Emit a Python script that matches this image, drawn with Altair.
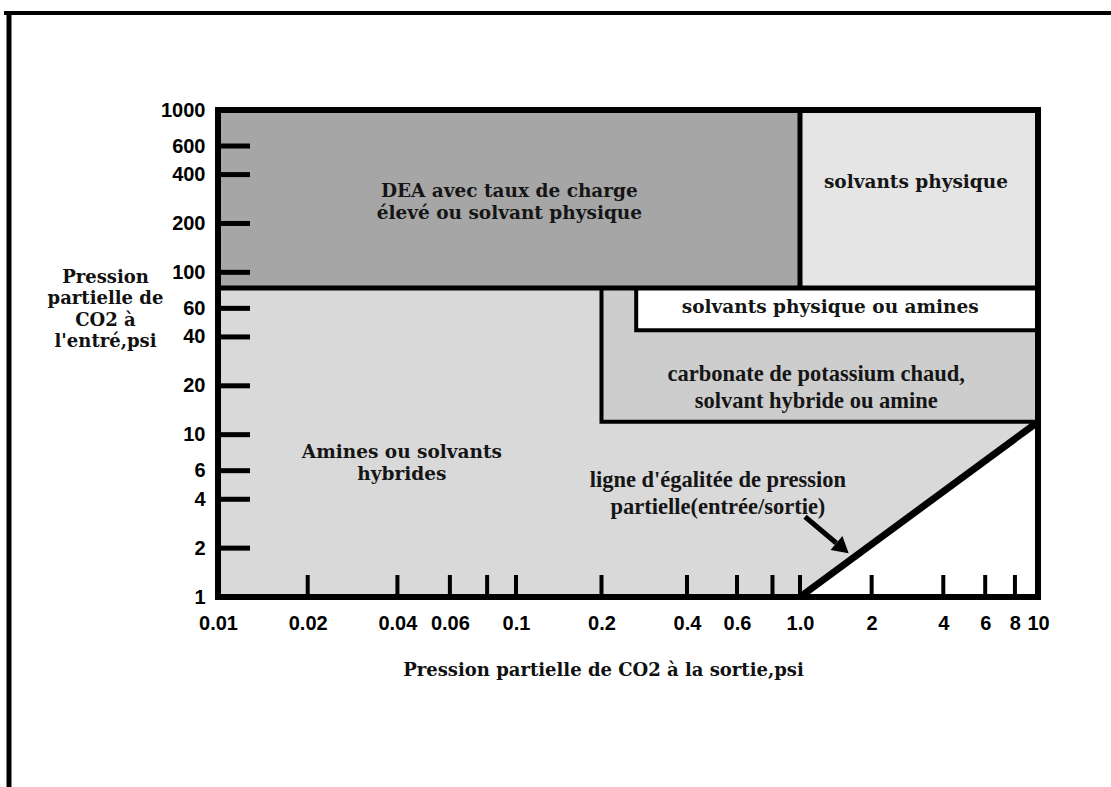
import altair as alt
import pandas as pd

# ---------------- data ----------------
# axis ticks / labels
x_tick_values = [0.02, 0.04, 0.06, 0.08, 0.1, 0.2, 0.4, 0.6, 0.8, 1.0, 2, 4, 6, 8]
x_label_values = [0.01, 0.02, 0.04, 0.06, 0.1, 0.2, 0.4, 0.6, 1.0, 2, 4, 6, 8, 10]
x_label_texts = ["0.01", "0.02", "0.04", "0.06", "0.1", "0.2", "0.4", "0.6", "1.0", "2", "4", "6", "8", "10"]
y_tick_values = [600, 400, 200, 100, 60, 40, 20, 10, 6, 4, 2]
y_label_values = [1000, 600, 400, 200, 100, 60, 40, 20, 10, 6, 4, 2, 1]

# upper zones (no outline)
top_names = ["DEA", "physique"]
top_x0 = [0.01, 1.0]
top_x1 = [1.0, 10]
top_y0 = [80, 80]
top_y1 = [1000, 1000]

# outlined boxes
box_names = ["carbonate", "physique_amines"]
box_x0 = [0.2, 0.265]
box_x1 = [10, 10]
box_y0 = [12, 44]
box_y1 = [80, 80]

# equality line (entrée = sortie)
eq_x = [1.0, 10]
eq_y = [1, 12]

# separators
divider_x = [1.0]
divider_y0 = [80]
divider_y1 = [1000]
separator_y = [80]
separator_x0 = [0.01]
separator_x1 = [10]

# plot frame
frame_x0, frame_x1, frame_y0, frame_y1 = [0.01], [10], [1], [1000]

# arrow (tail -> end of shaft), head
arrow_x = [1.05, 1.42]
arrow_y = [3.12, 2.15]
head_x, head_y = [1.48], [2.05]

# annotations
lab_a_text = ["DEA avec taux de charge\nélevé ou solvant physique",
              "solvants physique",
              "solvants physique ou amines",
              "Amines ou solvants\nhybrides"]
lab_a_x = [0.095, 3.07, 1.34, 0.0414]
lab_a_y = [316, 360, 61.2, 7.82]
lab_b_text = ["carbonate de potassium chaud,\nsolvant hybride ou amine",
              "ligne d'égalitée de pression\npartielle(entrée/sortie)"]
lab_b_x = [1.17, 0.514]
lab_b_y = [23.7, 5.26]

x_title = "Pression partielle de CO2 à la sortie,psi"
y_title = ["Pression", "partielle de", "CO2 à", "l'entré,psi"]

# ---------------- chart ----------------
W, H = 820, 487
x_scale = alt.Scale(type="log", domain=[0.01, 0.1, 1, 10], range=[0, 298, 582, 820], nice=False)
y_scale = alt.Scale(type="log", domain=[1, 1000], nice=False)

label_expr = "".join(f"datum.value == {v} ? '{t}' : " for v, t in zip(x_label_values, x_label_texts)) + "''"

common_axis = dict(domain=False, ticks=False, tickSize=0, grid=False, labelFlush=False,
                   labelFont="Liberation Sans", labelFontWeight="bold", labelFontSize=20,
                   labelColor="black", titleColor="#111111", titleFont="DejaVu Serif",
                   titleFontWeight="bold", titleFontSize=18)

x_axis = alt.Axis(values=x_label_values, labelExpr=label_expr, labelPadding=16,
                  title=x_title, titleX=385, titleY=73, titleBaseline="middle",
                  titleAlign="center", **common_axis)
y_axis = alt.Axis(values=y_label_values, format="d", labelPadding=13,
                  title=y_title, titleAngle=0, titleX=-113, titleY=167,
                  titleAlign="center", titleBaseline="middle", titleLineHeight=21.5,
                  **common_axis)


def X(f):
    return alt.X(f, type="quantitative", scale=x_scale, axis=x_axis)


def Y(f):
    return alt.Y(f, type="quantitative", scale=y_scale, axis=y_axis)


top_df = pd.DataFrame(dict(zone=top_names, x0=top_x0, x1=top_x1, y0=top_y0, y1=top_y1))
top_layer = alt.Chart(top_df).mark_rect(strokeWidth=0).encode(
    x=X("x0"), x2="x1", y=Y("y0"), y2="y1",
    color=alt.Color("zone:N", scale=alt.Scale(domain=top_names, range=["#a6a6a6", "#e5e5e5"]), legend=None),
)

tri_df = pd.DataFrame(dict(x=eq_x, y=eq_y))
tri_layer = alt.Chart(tri_df).mark_area(color="white").encode(
    x=X("x"), y=Y("y"), y2=alt.datum(1)
)

box_df = pd.DataFrame(dict(zone=box_names, x0=box_x0, x1=box_x1, y0=box_y0, y1=box_y1))
box_layer = alt.Chart(box_df).mark_rect(stroke="black", strokeWidth=4).encode(
    x=X("x0"), x2="x1", y=Y("y0"), y2="y1",
    fill=alt.Fill("zone:N", scale=alt.Scale(domain=box_names, range=["#cdcdcd", "#ffffff"]), legend=None),
)

eq_layer = alt.Chart(tri_df).mark_line(color="black", strokeWidth=7).encode(x=X("x"), y=Y("y"))

div_df = pd.DataFrame(dict(x=divider_x, y0=divider_y0, y1=divider_y1))
div_layer = alt.Chart(div_df).mark_rule(color="black", strokeWidth=5).encode(x=X("x"), y=Y("y0"), y2="y1")

sep_df = pd.DataFrame(dict(y=separator_y, x0=separator_x0, x1=separator_x1))
sep_layer = alt.Chart(sep_df).mark_rule(color="black", strokeWidth=5).encode(x=X("x0"), x2="x1", y=Y("y"))

frame_df = pd.DataFrame(dict(x0=frame_x0, x1=frame_x1, y0=frame_y0, y1=frame_y1))
frame_layer = alt.Chart(frame_df).mark_rect(fillOpacity=0, stroke="black", strokeWidth=6).encode(
    x=X("x0"), x2="x1", y=Y("y0"), y2="y1"
)

yt_df = pd.DataFrame(dict(v=y_tick_values))
yt_layer = alt.Chart(yt_df).mark_rule(color="black", strokeWidth=5).encode(
    y=Y("v"), x=alt.value(0), x2=alt.value(32)
)

xt_df = pd.DataFrame(dict(v=x_tick_values))
xt_layer = alt.Chart(xt_df).mark_rule(color="black", strokeWidth=4).encode(
    x=X("v"), y=alt.value(H), y2=alt.value(H - 22)
)

arrow_df = pd.DataFrame(dict(x=arrow_x, y=arrow_y))
arrow_layer = alt.Chart(arrow_df).mark_line(color="black", strokeWidth=5).encode(
    x=X("x"), y=Y("y")
)
head_df = pd.DataFrame(dict(x=head_x, y=head_y))
head_layer = alt.Chart(head_df).mark_point(shape="triangle", filled=True, color="black",
                                           opacity=1, size=340, angle=130).encode(x=X("x"), y=Y("y"))

la_df = pd.DataFrame(dict(t=lab_a_text, x=lab_a_x, y=lab_a_y))
la_layer = alt.Chart(la_df).mark_text(font="DejaVu Serif", fontWeight="bold", fontSize=18.5,
                                      lineBreak="\n", lineHeight=22, color="#151515",
                                      align="center", baseline="middle").encode(
    x=X("x"), y=Y("y"), text="t"
)
lb_df = pd.DataFrame(dict(t=lab_b_text, x=lab_b_x, y=lab_b_y))
lb_layer = alt.Chart(lb_df).mark_text(font="Liberation Serif", fontWeight="bold", fontSize=22.5,
                                      lineBreak="\n", lineHeight=27, color="#151515",
                                      align="center", baseline="middle").encode(
    x=X("x"), y=Y("y"), text="t"
)

# outer picture frame (decoration in pixels)
outer_top = alt.Chart(frame_df).mark_rule(color="black", strokeWidth=4).encode(
    x=alt.value(-214), x2=alt.value(893), y=alt.value(-97)
)
outer_left = alt.Chart(frame_df).mark_rule(color="black", strokeWidth=5).encode(
    x=alt.value(-209), y=alt.value(-99), y2=alt.value(677)
)

chart = alt.layer(
    top_layer, tri_layer, box_layer, eq_layer, div_layer, sep_layer, frame_layer,
    yt_layer, xt_layer, arrow_layer, head_layer, la_layer, lb_layer, outer_top, outer_left
).resolve_scale(
    color="independent", fill="independent"
).properties(
    width=W, height=H,
    autosize=alt.AutoSizeParams(type="none"),
    padding={"left": 218, "top": 110, "right": 73, "bottom": 190},
    background="white",
).configure_view(fill="#d9d9d9", strokeWidth=0)

chart.save("out.html", embed_options={"renderer": "svg", "actions": False})
